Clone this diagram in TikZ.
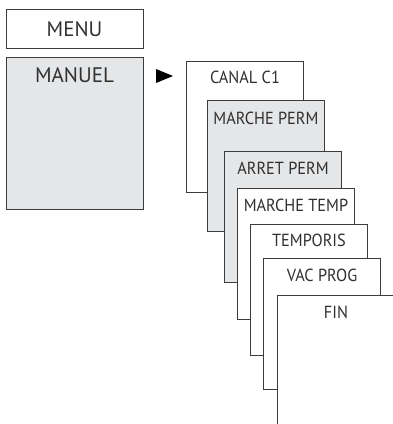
\documentclass[tikz,border=0pt]{standalone}
\usepackage{fontspec}
\setmainfont{PT Sans}
\newfontfamily\subfont{PT Sans}[FakeStretch=0.93]
\definecolor{boxgray}{HTML}{E5E6E8}
\definecolor{edge}{HTML}{3C3C3C}
\definecolor{txt}{HTML}{303030}
\begin{document}
\begin{tikzpicture}[x=1pt,y=-1pt,
  menubox/.style={draw=edge,line width=1pt,anchor=north west,minimum width=137pt,inner sep=0pt},
  subbox/.style={draw=edge,fill=white,line width=1pt,anchor=north west,minimum width=117pt,minimum height=131pt,inner sep=0pt},
  graybox/.style={subbox,fill=boxgray},
  menutext/.style={text=txt,font=\fontsize{21}{21}\selectfont,inner sep=0pt},
  subtext/.style={text=txt,font=\subfont\fontsize{17.5}{17.5}\selectfont,inner sep=0pt}]
\useasboundingbox (0,0) rectangle (393,424);
\clip (0,0) rectangle (393,424);
% menu column
\node[menubox,minimum height=39pt] (menu) at (6,9) {};
\node[menutext] (menut) at (74.5,29) {MENU};
\node[menubox,fill=boxgray,minimum height=152pt] (manuel) at (6,57) {};
\node[menutext] (manuelt) at (74.5,75) {MANUEL};
% marker
\fill[black] (156,69) -- (173,76) -- (156,83) -- cycle;
% submenu cascade
\node[subbox] (b1) at (186,61) {};
\node[subtext] (t1) at ([yshift=-16pt]b1.north) {CANAL C1};
\node[graybox] (b2) at (207,100) {};
\node[subtext] (t2) at ([yshift=-18pt]b2.north) {MARCHE PERM};
\node[graybox] (b3) at (224,151) {};
\node[subtext] (t3) at ([yshift=-17pt]b3.north) {ARRET PERM};
\node[subbox] (b4) at (237,188) {};
\node[subtext] (t4) at ([yshift=-17pt]b4.north) {MARCHE TEMP};
\node[subbox] (b5) at (250,224) {};
\node[subtext] (t5) at ([yshift=-16pt]b5.north) {TEMPORIS};
\node[subbox] (b6) at (263,258) {};
\node[subtext] (t6) at ([yshift=-17pt]b6.north) {VAC PROG};
\node[subbox,minimum height=140pt] (b7) at (277,295) {};
\node[subtext] (t7) at ([yshift=-17pt]b7.north) {FIN};
\end{tikzpicture}
\end{document}
